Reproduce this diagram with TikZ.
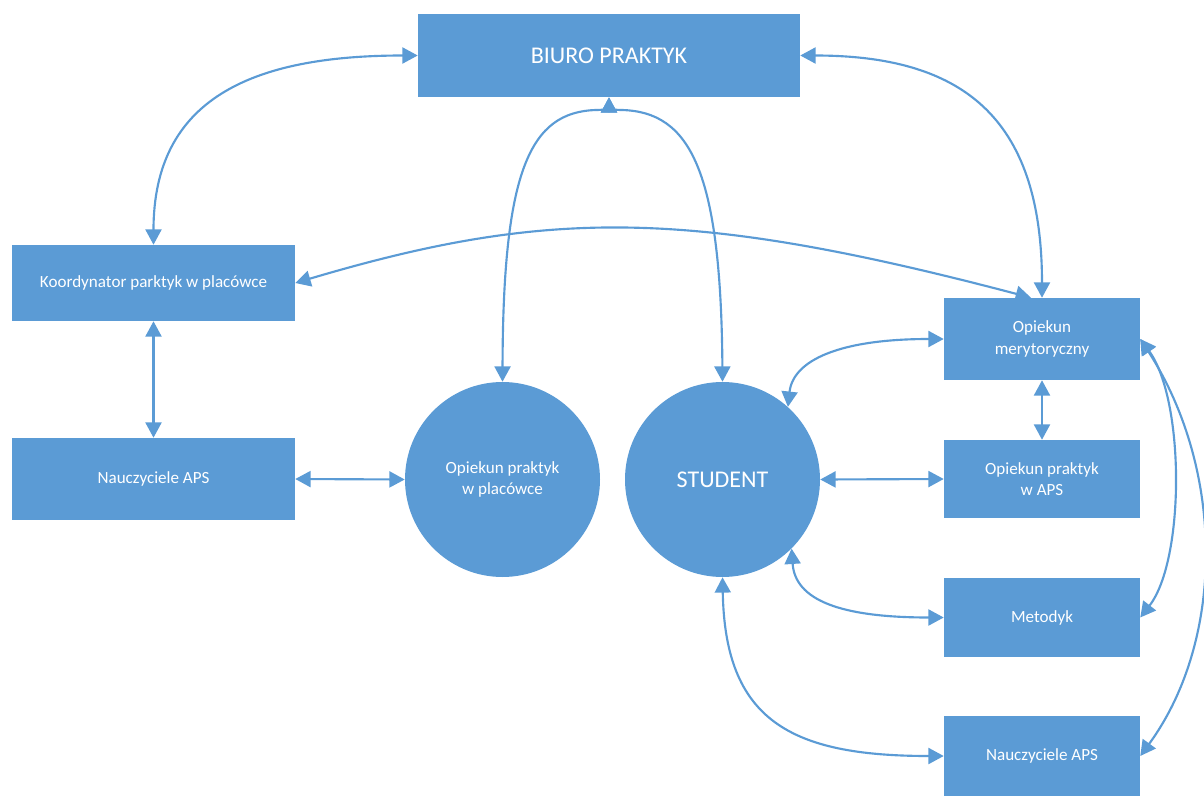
\documentclass[tikz,border=0pt]{standalone}
\usepackage{fontspec}
\setmainfont{Carlito}
\usetikzlibrary{arrows.meta,calc}
\definecolor{officeblue}{HTML}{5B9BD5}
\begin{document}
\begin{tikzpicture}[x=0.75pt,y=-0.75pt,
  box/.style={fill=officeblue, draw=none, text=white, inner sep=0pt, align=center,
    font=\fontsize{12.8}{16}\selectfont},
  rbox/.style={box, minimum width=196*0.75pt},
  lbox/.style={box, minimum width=283*0.75pt},
  disc/.style={box, circle, minimum size=195*0.75pt},
  bigtext/.style={font=\fontsize{18}{21}\selectfont},
  conn/.style={draw=officeblue, line width=1.6pt,
    {Triangle[length=11.5pt,width=12pt]}-{Triangle[length=11.5pt,width=12pt]}},
]
\useasboundingbox (0,0) rectangle (1204,796);

% nodes
\node[box,bigtext,minimum width=382*0.75pt,minimum height=83*0.75pt] (biuro) at (609,55.5) {BIURO PRAKTYK};
\node[lbox,minimum height=76*0.75pt] (koord) at (153.5,283) {Koordynator parktyk w placówce};
\node[lbox,minimum height=82*0.75pt] (naucl) at (153.5,479) {Nauczyciele APS};
\node[disc] (opl) at (502.5,479.5) {Opiekun praktyk\\w placówce};
\node[disc,bigtext] (stu) at (722.5,479.5) {STUDENT};
\node[rbox,minimum height=82*0.75pt] (mery) at (1042,339) {Opiekun\\merytoryczny};
\node[rbox,minimum height=78*0.75pt] (opaps) at (1042,479) {Opiekun praktyk\\w APS};
\node[rbox,minimum height=79*0.75pt] (metod) at (1042,617.5) {Metodyk};
\node[rbox,minimum height=80*0.75pt] (naucr) at (1042,756) {Nauczyciele APS};

% connectors
\draw[conn] (koord.north) .. controls (153.5,100) and (250,55.5) .. (biuro.west);
\draw[conn] (biuro.east) .. controls (960,55.5) and (1042,115) .. (mery.north);
\draw[conn] (koord.east) .. controls (548,208) and (690,208) .. ($(mery.north)+(-11,0)$);
\draw[conn] (opl.north) .. controls (503,170) and (530,112) .. (596,110)
  .. controls (605,110) and (609,108) .. (biuro.south);
\draw[conn] (stu.north) .. controls (721,170) and (690,112) .. (622,110)
  .. controls (613,110) and (609,108) .. (biuro.south);
\draw[conn] (koord.south) -- (naucl.north);
\draw[conn] (naucl.east) -- (opl.west);
\draw[conn] (stu.east) -- (opaps.west);
\draw[conn] (mery.south) -- (opaps.north);
\draw[conn] (mery.west) .. controls (840,339) and (793,360) .. (stu.48);
\draw[conn] (stu.-45) .. controls (795,600) and (840,617.5) .. (metod.west);
\draw[conn] (stu.south) .. controls (725,720) and (790,756) .. (naucr.west);
\draw[conn] (mery.east) .. controls (1185,400) and (1185,560) .. (metod.east);
\draw[conn] (mery.east) .. controls (1225,470) and (1225,640) .. (naucr.east);
\end{tikzpicture}
\end{document}
